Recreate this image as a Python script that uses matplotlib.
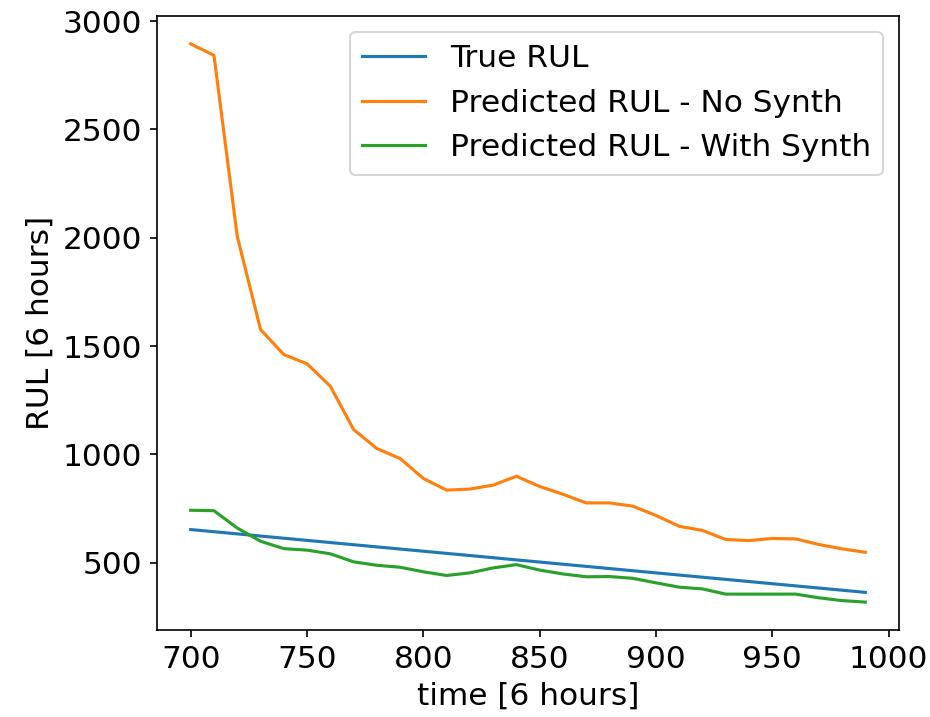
import numpy as np
from matplotlib import pyplot as plt

# time axis [6 hours]
time = np.arange(700, 1000, 10)

# true remaining useful life
true_rul = [653, 643, 633, 623, 613, 603, 593, 583, 573, 563,
            553, 543, 533, 523, 513, 503, 493, 483, 473, 463,
            453, 443, 433, 423, 413, 403, 393, 383, 373, 363]

# prediction without synthetic data
pred_no_synth = [2895, 2842, 2007, 1577, 1461, 1418, 1315, 1115, 1027, 981,
                 889, 835, 840, 858, 899, 852, 816, 776, 776, 761,
                 718, 668, 649, 607, 602, 612, 610, 584, 564, 548]

# prediction with synthetic data
pred_with_synth = [742, 740, 660, 599, 565, 558, 541, 504, 488, 479,
                   458, 441, 453, 476, 491, 466, 448, 435, 436, 428,
                   407, 387, 379, 355, 355, 355, 355, 338, 325, 318]

plt.rcParams['font.size'] = 15

fig = plt.figure(figsize=(6.2, 4.78), dpi=150)
ax = fig.add_axes([0.1688, 0.1213, 0.7979, 0.8564])
ax.plot(time, true_rul, label='True RUL')
ax.plot(time, pred_no_synth, label='Predicted RUL - No Synth')
ax.plot(time, pred_with_synth, label='Predicted RUL - With Synth')
ax.set_xlabel('time [6 hours]')
ax.set_ylabel('RUL [6 hours]')
ax.set_xticks([700, 750, 800, 850, 900, 950, 1000])
ax.legend(loc='upper right')

fig.savefig('out.png', dpi=150)
